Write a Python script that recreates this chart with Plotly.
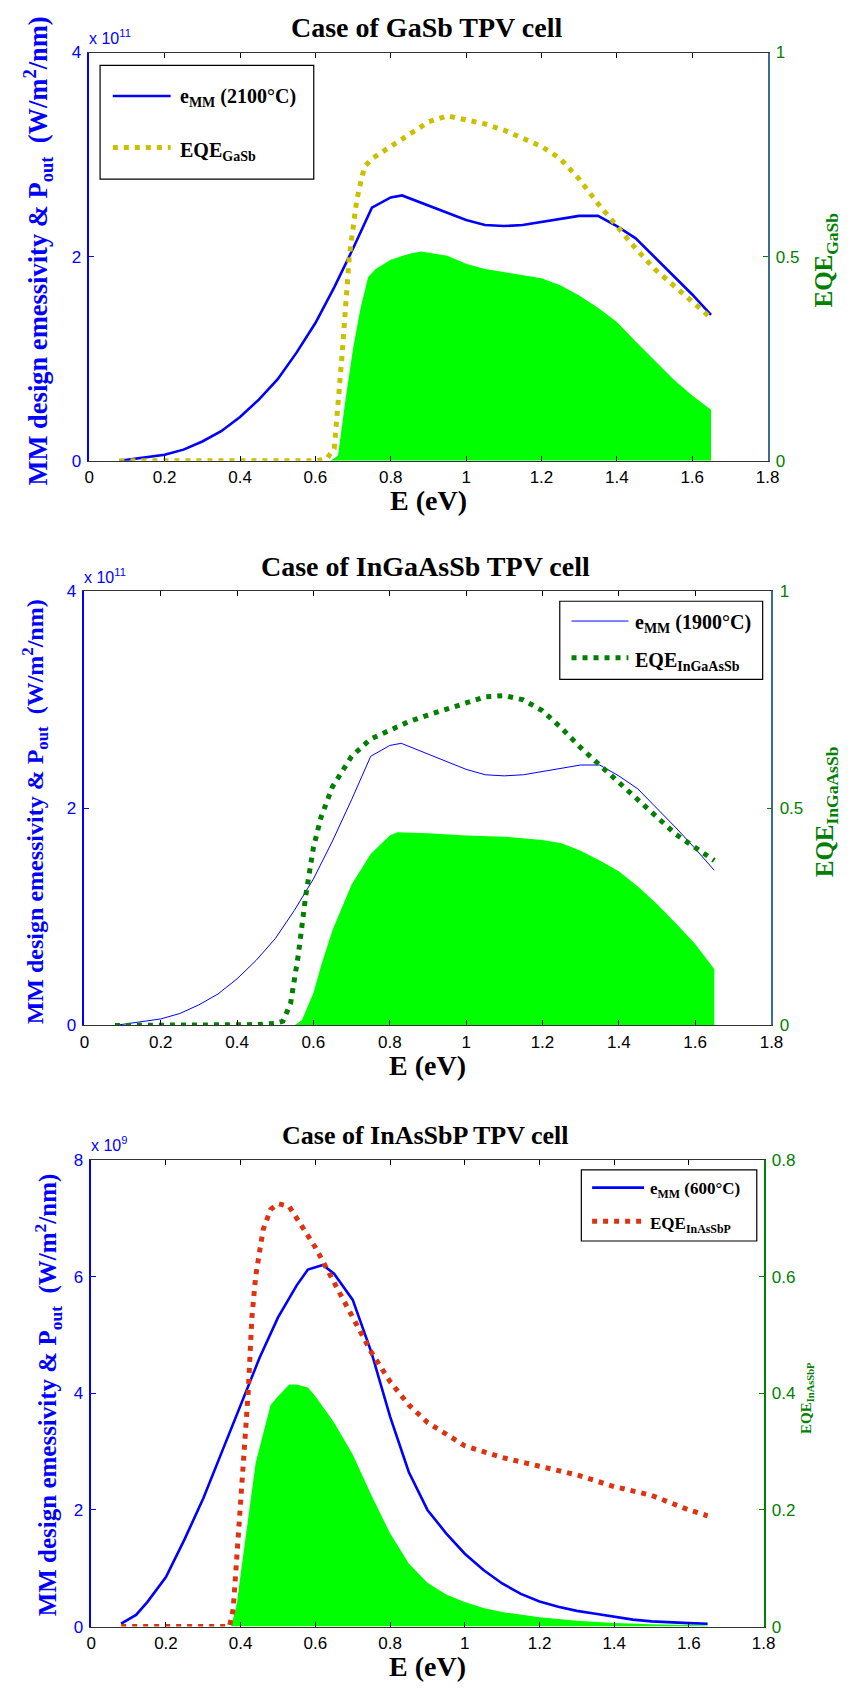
import plotly.graph_objects as go

W, H = 857, 1691

# ---------------- Data ----------------
# Panel 1: GaSb
E1_emm = [0.08,0.1,0.15,0.2,0.25,0.3,0.35,0.4,0.45,0.5,0.55,0.6,0.65,0.7,0.75,0.8,0.83,0.9,0.95,1.0,1.05,1.1,1.15,1.2,1.25,1.3,1.35,1.4,1.45,1.5,1.55,1.6,1.65]
emm1 = [0.0,0.01,0.03,0.06,0.11,0.19,0.29,0.43,0.6,0.8,1.06,1.35,1.7,2.08,2.48,2.58,2.6,2.5,2.43,2.36,2.31,2.3,2.31,2.34,2.37,2.4,2.4,2.3,2.18,2.0,1.82,1.63,1.43]  # x 1e11
E1_eqe = [0.08,0.15,0.2,0.3,0.4,0.5,0.6,0.63,0.65,0.67,0.69,0.71,0.73,0.75,0.8,0.85,0.9,0.95,1.0,1.05,1.1,1.15,1.2,1.25,1.3,1.35,1.4,1.45,1.5,1.55,1.6,1.65]
eqe1 = [0,0,0,0,0,0,0,0.005,0.03,0.25,0.5,0.64,0.72,0.74,0.77,0.8,0.83,0.845,0.835,0.825,0.81,0.79,0.77,0.74,0.69,0.63,0.575,0.52,0.47,0.43,0.39,0.35]
E1_p = [0.64,0.66,0.68,0.7,0.72,0.74,0.76,0.8,0.85,0.88,0.95,1.0,1.05,1.1,1.15,1.2,1.25,1.3,1.35,1.4,1.45,1.5,1.55,1.6,1.65]
p1 = [0,0.05,0.6,1.1,1.5,1.8,1.88,1.97,2.03,2.05,2.01,1.93,1.88,1.85,1.82,1.79,1.72,1.62,1.5,1.36,1.17,0.98,0.8,0.64,0.5]  # x 1e11

# Panel 2: InGaAsSb
E2_emm = [0.08,0.1,0.15,0.2,0.25,0.3,0.35,0.4,0.45,0.5,0.55,0.6,0.65,0.7,0.75,0.8,0.83,0.9,0.95,1.0,1.05,1.1,1.15,1.2,1.25,1.3,1.35,1.4,1.45,1.5,1.55,1.6,1.65]
emm2 = [0.0,0.01,0.03,0.06,0.11,0.19,0.29,0.43,0.6,0.8,1.06,1.35,1.7,2.08,2.48,2.58,2.6,2.5,2.43,2.36,2.31,2.3,2.31,2.34,2.37,2.4,2.4,2.3,2.18,2.0,1.82,1.63,1.43]  # x 1e11
E2_eqe = [0.08,0.2,0.3,0.4,0.45,0.5,0.52,0.54,0.56,0.58,0.6,0.62,0.65,0.7,0.75,0.8,0.85,0.9,0.95,1.0,1.05,1.1,1.15,1.2,1.25,1.3,1.35,1.4,1.45,1.5,1.55,1.6,1.65]
eqe2 = [0,0,0,0,0.002,0.005,0.01,0.05,0.16,0.3,0.41,0.48,0.55,0.62,0.66,0.68,0.70,0.715,0.73,0.745,0.757,0.76,0.75,0.725,0.685,0.64,0.6,0.56,0.52,0.48,0.44,0.41,0.38]
E2_p = [0.55,0.57,0.6,0.62,0.65,0.7,0.75,0.8,0.82,0.9,1.0,1.1,1.2,1.25,1.3,1.35,1.4,1.45,1.5,1.55,1.6,1.65]
p2 = [0,0.05,0.3,0.55,0.88,1.3,1.58,1.75,1.78,1.77,1.75,1.74,1.71,1.68,1.61,1.52,1.42,1.28,1.12,0.94,0.75,0.52]  # x 1e11

# Panel 3: InAsSbP
E3_emm = [0.08,0.1,0.12,0.15,0.2,0.25,0.3,0.35,0.4,0.45,0.5,0.55,0.58,0.62,0.65,0.7,0.75,0.8,0.85,0.9,0.95,1.0,1.05,1.1,1.15,1.2,1.25,1.3,1.35,1.4,1.45,1.5,1.55,1.6,1.65]
emm3 = [0.05,0.12,0.2,0.42,0.85,1.5,2.2,3.0,3.8,4.6,5.3,5.85,6.12,6.2,6.05,5.6,4.7,3.6,2.65,2.0,1.6,1.25,0.97,0.74,0.56,0.43,0.34,0.27,0.22,0.17,0.12,0.09,0.07,0.06,0.05]  # x 1e9
E3_eqe = [0.08,0.15,0.2,0.25,0.3,0.35,0.37,0.38,0.39,0.4,0.41,0.42,0.43,0.44,0.46,0.48,0.5,0.53,0.56,0.6,0.65,0.7,0.75,0.8,0.85,0.9,0.95,1.0,1.1,1.2,1.3,1.4,1.5,1.6,1.65]
eqe3 = [0,0,0,0,0,0,0,0.03,0.12,0.22,0.32,0.4,0.53,0.6,0.68,0.715,0.725,0.72,0.69,0.65,0.59,0.53,0.47,0.42,0.38,0.35,0.33,0.31,0.29,0.275,0.26,0.24,0.225,0.2,0.19]
E3_p = [0.375,0.39,0.4,0.42,0.44,0.46,0.48,0.5,0.53,0.55,0.58,0.6,0.65,0.7,0.75,0.8,0.85,0.9,0.95,1.0,1.05,1.1,1.2,1.3,1.4,1.5,1.6,1.65]
p3 = [0,0.4,0.9,1.9,2.8,3.3,3.8,3.95,4.15,4.15,4.1,3.95,3.5,2.95,2.25,1.6,1.08,0.75,0.55,0.42,0.32,0.25,0.16,0.1,0.06,0.04,0.02,0.02]  # x 1e9

x_ticks = [0,0.2,0.4,0.6,0.8,1,1.2,1.4,1.6,1.8]
x_ticktext = ["0","0.2","0.4","0.6","0.8","1","1.2","1.4","1.6","1.8"]

panels = [
    dict(title="Case of GaSb TPV cell", Eemm=E1_emm, emm=emm1, Eeqe=E1_eqe, eqe=eqe1, Ep=E1_p, p=p1,
         scale=1e11, exp="11", ymax=4, lticks=[0,2,4], rmax=1, rticks=[0,0.5,1], rtext=["0","0.5","1"],
         eqecolor="#C8C000", bluew=2.6, rlabel="EQE<sub>GaSb</sub>", temp="2100",
         box=(86,44,778,457), rline="#3A6E8A", tfs=28),
    dict(title="Case of InGaAsSb TPV cell", Eemm=E2_emm, emm=emm2, Eeqe=E2_eqe, eqe=eqe2, Ep=E2_p, p=p2,
         scale=1e11, exp="11", ymax=4, lticks=[0,2,4], rmax=1, rticks=[0,0.5,1], rtext=["0","0.5","1"],
         eqecolor="#007F00", bluew=1.0, rlabel="EQE<sub>InGaAsSb</sub>", temp="1900",
         box=(81,589,782,1028), rline="#3A6E8A", tfs=28),
    dict(title="Case of InAsSbP TPV cell", Eemm=E3_emm, emm=emm3, Eeqe=E3_eqe, eqe=eqe3, Ep=E3_p, p=p3,
         scale=1e9, exp="9", ymax=8, lticks=[0,2,4,6,8], rmax=0.8, rticks=[0,0.2,0.4,0.6,0.8],
         rtext=["0","0.2","0.4","0.6","0.8"],
         eqecolor="#DD3311", bluew=2.6, rlabel="EQE<sub>InAsSbP</sub>", temp="600",
         box=(88,1164,774,1636), rline="#008000", tfs=26),
]

fig = go.Figure()
layout = dict(width=W, height=H, margin=dict(l=0, r=0, t=0, b=0), autosize=False,
              paper_bgcolor="white", plot_bgcolor="white", showlegend=False)
annotations = []
shapes = []

def px(x):
    return x / W

def py(y):
    return 1 - y / H

tickfont_family = "Liberation Sans, Arial, sans-serif"
serif = "Liberation Serif, Times New Roman, serif"

for i, P in enumerate(panels):
    n = i + 1
    xa = "x" if n == 1 else f"x{n}"
    yl = 2 * n - 1
    yr = 2 * n
    yla = "y" if yl == 1 else f"y{yl}"
    yra = f"y{yr}"
    l, t, r, b = P["box"]
    sc = P["scale"]

    # green filled output power
    fig.add_trace(go.Scatter(x=P["Ep"], y=[v * sc for v in P["p"]], xaxis=xa, yaxis=yla,
                             mode="lines", fill="tozeroy", fillcolor="#00FF00",
                             line=dict(width=0, color="#00FF00"), hoverinfo="skip"))
    # blue emissivity line
    fig.add_trace(go.Scatter(x=P["Eemm"], y=[v * sc for v in P["emm"]], xaxis=xa, yaxis=yla,
                             mode="lines", line=dict(color="#0000FF", width=P["bluew"])))
    # dotted EQE on right axis
    fig.add_trace(go.Scatter(x=P["Eeqe"], y=P["eqe"], xaxis=xa, yaxis=yra,
                             mode="lines", line=dict(color=P["eqecolor"], width=5, dash="5px,6px")))

    xkey = "xaxis" if n == 1 else f"xaxis{n}"
    ylkey = "yaxis" if yl == 1 else f"yaxis{yl}"
    yrkey = f"yaxis{yr}"
    layout[xkey] = dict(domain=[px(l), px(r)], anchor=yla, range=[0, 1.8],
                        tickvals=x_ticks, ticktext=x_ticktext, ticks="inside", ticklen=5,
                        tickcolor="black", showline=True, linecolor="#333333", linewidth=1.2,
                        mirror="ticks", showgrid=False, zeroline=False,
                        tickfont=dict(family=tickfont_family, size=17, color="black"),
                        ticklabelstandoff=1)
    layout[ylkey] = dict(domain=[py(b), py(t)], anchor=xa, range=[0, P["ymax"] * sc],
                         tickvals=[v * sc for v in P["lticks"]], ticktext=[str(v) for v in P["lticks"]],
                         ticks="inside", ticklen=5, tickcolor="#0000FF", showline=True,
                         linecolor="#0000FF", linewidth=1.5, showgrid=False, zeroline=False,
                         tickfont=dict(family=tickfont_family, size=17, color="#0000FF"),
                         ticklabelstandoff=3)
    layout[yrkey] = dict(overlaying=yla, anchor=xa, side="right", range=[0, P["rmax"]],
                         tickvals=P["rticks"], ticktext=P["rtext"], ticks="inside", ticklen=5,
                         tickcolor="#008000", showline=True, linecolor=P["rline"], linewidth=1.5,
                         showgrid=False, zeroline=False,
                         tickfont=dict(family=tickfont_family, size=17, color="#008000"),
                         ticklabelstandoff=3)

    # titles
    annotations.append(dict(text=f"<b>{P['title']}</b>", x=px((l + r) / 2 - 2), y=py(t - 25),
                            xref="paper", yref="paper", showarrow=False, xanchor="center",
                            yanchor="middle", font=dict(family=serif, size=P["tfs"], color="black")))
    annotations.append(dict(text="<b>E (eV)</b>", x=px((l + r) / 2), y=py(b + 40),
                            xref="paper", yref="paper", showarrow=False, xanchor="center",
                            yanchor="middle", font=dict(family=serif, size=28, color="black")))
    annotations.append(dict(text=f"x 10<sup>{P['exp']}</sup>", x=px(l - 2), y=py(t - 16),
                            xref="paper", yref="paper", showarrow=False, xanchor="left",
                            yanchor="middle", font=dict(family=tickfont_family, size=16, color="#0000FF")))

panels_ylab = [(34, 245, 26.5), (30, 812, 24), (44, 1402, 25)]
for (xx, yy, fs) in panels_ylab:
    annotations.append(dict(text="<b>MM design emessivity &amp; P<sub>out</sub>  (W/m<sup>2</sup>/nm)</b>",
                            x=px(xx), y=py(yy), xref="paper", yref="paper", showarrow=False,
                            textangle=-90, xanchor="center", yanchor="middle",
                            font=dict(family=serif, size=fs, color="#0000FF")))

rlabs = [(panels[0]["rlabel"], 837, 254, 25), (panels[1]["rlabel"], 838, 812, 25), (panels[2]["rlabel"], 818, 1405, 15)]
for (txt, xx, yy, fs) in rlabs:
    annotations.append(dict(text=f"<b>{txt}</b>", x=px(xx), y=py(yy), xref="paper", yref="paper",
                            showarrow=False, textangle=-90, xanchor="center", yanchor="middle",
                            font=dict(family=serif, size=fs, color="#008000")))

# legends (boxes with samples)
legends = [
    dict(box=(97, 57, 315, 172), l1=(110, 169, 88), l2=(110, 169, 140), tx=177, fs=20, p=panels[0]),
    dict(box=(566, 599, 773, 678), l1=(578, 636, 619), l2=(578, 636, 656), tx=641, fs=20, p=panels[1]),
    dict(box=(588, 1174, 767, 1246), l1=(599, 652, 1192), l2=(599, 652, 1226), tx=656, fs=17, p=panels[2]),
]
for L in legends:
    x0, y0, x1, y1 = L["box"]
    shapes.append(dict(type="rect", xref="paper", yref="paper", x0=px(x0), x1=px(x1), y0=py(y0), y1=py(y1),
                       line=dict(color="black", width=1.2), fillcolor="white", layer="above"))
    a, bb, yy = L["l1"]
    shapes.append(dict(type="line", xref="paper", yref="paper", x0=px(a), x1=px(bb), y0=py(yy), y1=py(yy),
                       line=dict(color="#0000FF", width=L["p"]["bluew"]), layer="above"))
    a, bb, yy = L["l2"]
    shapes.append(dict(type="line", xref="paper", yref="paper", x0=px(a), x1=px(bb), y0=py(yy), y1=py(yy),
                       line=dict(color=L["p"]["eqecolor"], width=5, dash="5px,6px"), layer="above"))
    annotations.append(dict(text=f"<b>e<sub>MM</sub> ({L['p']['temp']}°C)</b>", x=px(L["tx"]), y=py(L["l1"][2] + 2),
                            xref="paper", yref="paper", showarrow=False, xanchor="left", yanchor="middle",
                            font=dict(family=serif, size=L["fs"], color="black")))
    annotations.append(dict(text=f"<b>{L['p']['rlabel']}</b>", x=px(L["tx"]), y=py(L["l2"][2] + 4),
                            xref="paper", yref="paper", showarrow=False, xanchor="left", yanchor="middle",
                            font=dict(family=serif, size=L["fs"], color="black")))

layout["annotations"] = annotations
layout["shapes"] = shapes
fig.update_layout(**layout)
fig.write_html("out.html")
